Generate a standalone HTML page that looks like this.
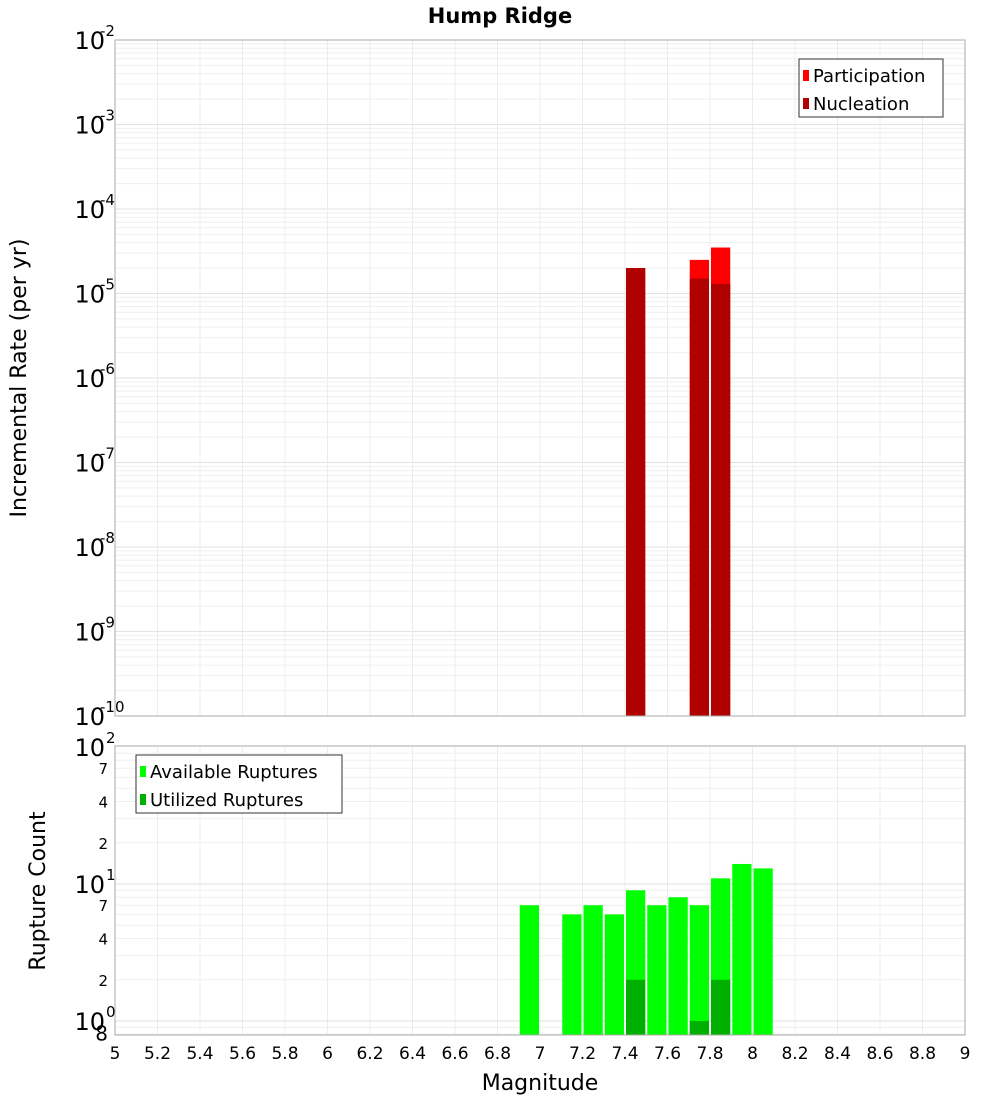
<!DOCTYPE html>
<html><head><meta charset="utf-8"><style>
body{margin:0;background:#fff;font-family:"Liberation Sans","DejaVu Sans",sans-serif}
svg text{font-family:"DejaVu Sans","Liberation Sans",sans-serif}
</style></head><body>
<svg id="c" width="1000" height="1100" xmlns="http://www.w3.org/2000/svg"></svg>
<script>
const topMags=[7.45,7.75,7.85];
const participation=[2.0e-5,2.5e-5,3.5e-5];
const nucleation=[2.0e-5,1.5e-5,1.3e-5];
const botMags=[6.95,7.15,7.25,7.35,7.45,7.55,7.65,7.75,7.85,7.95,8.05];
const available=[7,6,7,6,9,7,8,7,11,14,13];
const utilMags=[7.45,7.75,7.85];
const utilized=[2,1,2];
const xTicks=["5","5.2","5.4","5.6","5.8","6","6.2","6.4","6.6","6.8","7","7.2","7.4","7.6","7.8","8","8.2","8.4","8.6","8.8","9"];
const topExps=[-2,-3,-4,-5,-6,-7,-8,-9,-10];

const NS="http://www.w3.org/2000/svg";
const svg=document.getElementById('c');
function el(t,a,p){const e=document.createElementNS(NS,t);for(const k in a)e.setAttribute(k,a[k]);(p||svg).appendChild(e);return e;}
const X0=115,X1=965;
const x=m=>X0+(m-5)/4*(X1-X0);
const T0=40,T1=716;
const yT=v=>T0+(-2-Math.log10(v))*(T1-T0)/8;
const B0=747,Bz=1021,B1=1035;
const yB=v=>Bz-Math.log10(v)*(Bz-B0)/2;

// title
let t=el('text',{x:500,y:23,'text-anchor':'middle','font-size':21,'font-weight':'bold'});t.textContent='Hump Ridge';


// top grid
const gTop=el('g',{});

for(let e=-10;e<-2;e++)for(let k=1;k<10;k++){const yy=yT(k*Math.pow(10,e));el('line',{x1:X0,x2:X1,y1:yy,y2:yy,stroke:k==1?'#e2e2e2':'#efefef','stroke-width':1},gTop);}
for(let i=0;i<xTicks.length;i++){const xx=x(5+i*0.2);el('line',{x1:xx,x2:xx,y1:T0,y2:T1,stroke:'#ececec'},gTop);el('line',{x1:xx,x2:xx,y1:B0,y2:B1,stroke:'#ececec'},gTop);}
// bottom grid
for(let e=-1;e<2;e++)for(let k=1;k<10;k++){const v=k*Math.pow(10,e);if(v<0.79)continue;const yy=yB(v);el('line',{x1:X0,x2:X1,y1:yy,y2:yy,stroke:k==1?'#e2e2e2':'#efefef'},gTop);}

// top bars
topMags.forEach((m,i)=>{
 let r=el('rect',{x:x(m-0.05)+1,y:yT(participation[i]),width:x(m+0.05)-x(m-0.05)-2,height:T1-yT(participation[i]),fill:'#ff0000'});
 
 let n=el('rect',{x:x(m-0.05)+1,y:yT(nucleation[i]),width:x(m+0.05)-x(m-0.05)-2,height:T1-yT(nucleation[i]),fill:'#b00000'});
 
});
// bottom bars
botMags.forEach((m,i)=>{
 let r=el('rect',{x:x(m-0.05)+1,y:yB(available[i]),width:x(m+0.05)-x(m-0.05)-2,height:B1-yB(available[i]),fill:'#00ff00'});
 
});
utilMags.forEach((m,i)=>{
 let r=el('rect',{x:x(m-0.05)+1,y:yB(utilized[i]),width:x(m+0.05)-x(m-0.05)-2,height:B1-yB(utilized[i]),fill:'#00b000'});
 
});

// frames
el('rect',{x:X0,y:T0,width:X1-X0,height:T1-T0,fill:'none',stroke:'#aaa'});
el('rect',{x:X0,y:B0-1,width:X1-X0,height:B1-B0+1,fill:'none',stroke:'#aaa'});

// top y labels
topExps.forEach(e=>{
 const yy=yT(Math.pow(10,e));
 let g=el('text',{x:105,y:yy+9,'text-anchor':'end','font-size':24});
 
 g.textContent='10';
 let s=el('text',{x:100,y:yy-4,'font-size':15});s.textContent=String(e);
 
});
// bottom y labels
[[2,'100','2'],[1,'10','1'],[0,'1','0']].forEach(([e])=>{
 const yy=yB(Math.pow(10,e));
 let g=el('text',{x:105,y:yy+9,'text-anchor':'end','font-size':24});g.textContent='10';
 
 let s=el('text',{x:106,y:yy-4,'font-size':15});s.textContent=String(e);
 
});
[[7,70],[4,40],[2,20],[7,7],[4,4],[2,2],[8,0.8]].forEach(([lab,v])=>{
 let g=el('text',{x:108,y:yB(v)+6,'text-anchor':'end','font-size':lab==8&&v<1?20:15});g.textContent=String(lab);
 
});
// x labels
xTicks.forEach((l,i)=>{
 let g=el('text',{x:x(5+i*0.2),y:1059,'text-anchor':'middle','font-size':17});g.textContent=l;
 
});
t=el('text',{x:540,y:1090,'text-anchor':'middle','font-size':22});t.textContent='Magnitude';

t=el('text',{x:0,y:0,'text-anchor':'middle','font-size':22,transform:'translate(26,378) rotate(-90)'});t.textContent='Incremental Rate (per yr)';

t=el('text',{x:0,y:0,'text-anchor':'middle','font-size':22,transform:'translate(45,891) rotate(-90)'});t.textContent='Rupture Count';


// legends
function legend(x0,y0,w,items,name){
 const g=el('g',{});
 el('rect',{x:x0,y:y0,width:w,height:58,fill:'#fff',stroke:'#333'},g);
 items.forEach(([c,l],i)=>{
  el('rect',{x:x0+4,y:y0+11+i*28,width:6,height:11,fill:c},g);
  let tx=el('text',{x:x0+14,y:y0+23+i*28,'font-size':18},g);tx.textContent=l;
  
 });
}
legend(799,59,144,[['#ff0000','Participation'],['#b00000','Nucleation']],'top-legend');
legend(136,755,206,[['#00ff00','Available Ruptures'],['#00b000','Utilized Ruptures']],'bottom-legend');
</script>
</body></html>
